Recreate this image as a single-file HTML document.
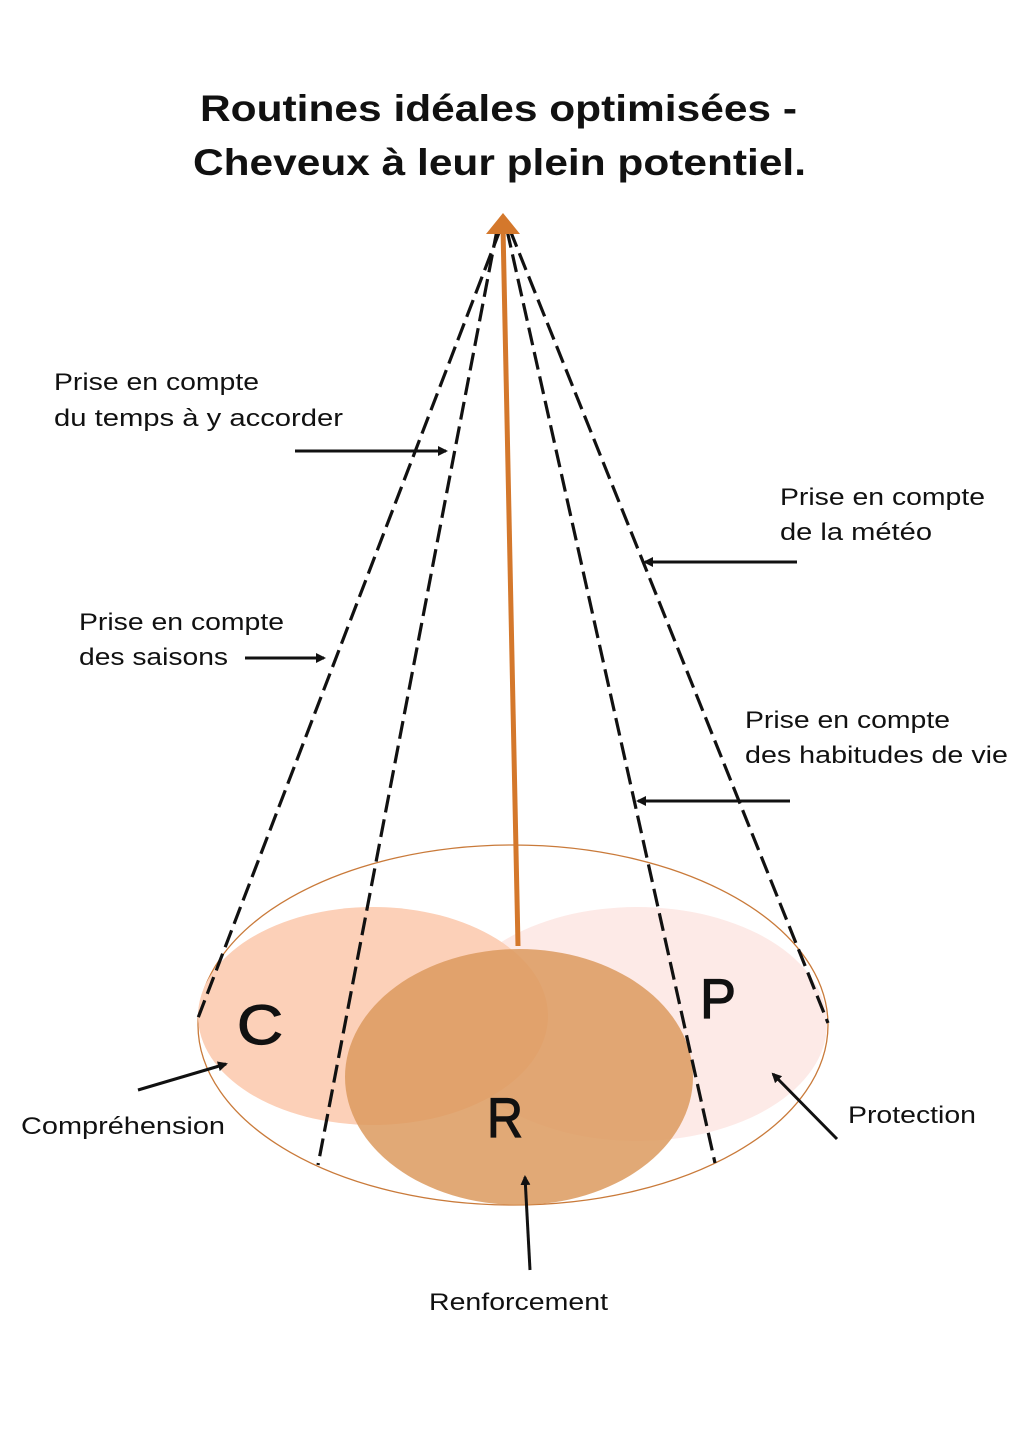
<!DOCTYPE html>
<html><head><meta charset="utf-8"><style>
body{margin:0;background:#fff;}
svg{display:block}
text{font-family:"Liberation Sans",sans-serif;fill:#111}
</style></head><body>
<svg width="1030" height="1439" viewBox="0 0 1030 1439" xmlns="http://www.w3.org/2000/svg">
<defs><marker id="ah" markerWidth="10" markerHeight="10" refX="8" refY="5" orient="auto" markerUnits="userSpaceOnUse"><path d="M0,0 L10,5 L0,10 z" fill="#111"/></marker></defs>
<text x="200" y="121" font-size="37" font-weight="bold" textLength="597" lengthAdjust="spacingAndGlyphs">Routines idéales optimisées -</text>
<text x="193" y="175" font-size="37" font-weight="bold" textLength="613" lengthAdjust="spacingAndGlyphs">Cheveux à leur plein potentiel.</text>
<ellipse cx="513" cy="1025" rx="315" ry="180" fill="none" stroke="#c97a3a" stroke-width="1.3"/>
<ellipse cx="637" cy="1024" rx="190" ry="117" fill="#fdeae7"/>
<ellipse cx="373" cy="1016" rx="175" ry="109" fill="#fcd0b8"/>
<ellipse cx="519" cy="1077" rx="174" ry="128" fill="#dc9a5e" fill-opacity="0.85"/>
<g stroke="#111" stroke-width="3.2" stroke-dasharray="18,7" fill="none">
<line x1="500" y1="230" x2="198" y2="1018"/>
<line x1="497" y1="230" x2="318" y2="1165"/>
<line x1="507" y1="230" x2="715" y2="1163"/>
<line x1="510" y1="230" x2="828" y2="1023"/>
</g>
<line x1="518" y1="946" x2="503" y2="228" stroke="#d4782c" stroke-width="5"/>
<path d="M486,234 L503,213 L520,234 z" fill="#d4782c"/>
<g stroke="#111" stroke-width="1.2">
<text x="237" y="1044" font-size="56" textLength="46" lengthAdjust="spacingAndGlyphs">C</text>
<text x="700" y="1018" font-size="56" textLength="36" lengthAdjust="spacingAndGlyphs">P</text>
<text x="487" y="1137" font-size="56" textLength="36" lengthAdjust="spacingAndGlyphs">R</text>
</g>
<g stroke="#111" stroke-width="3" marker-end="url(#ah)">
<line x1="295" y1="451" x2="446" y2="451"/>
<line x1="245" y1="658" x2="324" y2="658"/>
<line x1="797" y1="562" x2="645" y2="562"/>
<line x1="790" y1="801" x2="638" y2="801"/>
<line x1="138" y1="1090" x2="226" y2="1064"/>
<line x1="837" y1="1139" x2="773" y2="1074"/>
<line x1="530" y1="1270" x2="525" y2="1177"/>
</g>
<g font-size="24">
<text x="54" y="390" textLength="205" lengthAdjust="spacingAndGlyphs">Prise en compte</text>
<text x="54" y="426" textLength="289" lengthAdjust="spacingAndGlyphs">du temps à y accorder</text>
<text x="79" y="630" textLength="205" lengthAdjust="spacingAndGlyphs">Prise en compte</text>
<text x="79" y="665" textLength="149" lengthAdjust="spacingAndGlyphs">des saisons</text>
<text x="780" y="505" textLength="205" lengthAdjust="spacingAndGlyphs">Prise en compte</text>
<text x="780" y="540" textLength="152" lengthAdjust="spacingAndGlyphs">de la météo</text>
<text x="745" y="728" textLength="205" lengthAdjust="spacingAndGlyphs">Prise en compte</text>
<text x="745" y="763" textLength="263" lengthAdjust="spacingAndGlyphs">des habitudes de vie</text>
<text x="21" y="1134" textLength="204" lengthAdjust="spacingAndGlyphs">Compréhension</text>
<text x="848" y="1123" textLength="128" lengthAdjust="spacingAndGlyphs">Protection</text>
<text x="429" y="1310" textLength="179" lengthAdjust="spacingAndGlyphs">Renforcement</text>
</g>
</svg>
</body></html>
